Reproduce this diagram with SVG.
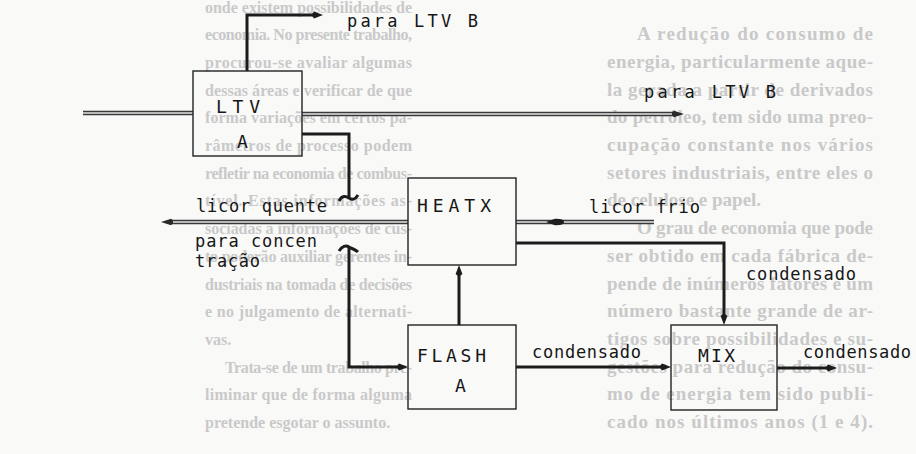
<svg xmlns="http://www.w3.org/2000/svg" width="916" height="454" viewBox="0 0 916 454">
<style>
.bg{font-family:"Liberation Serif","DejaVu Serif",serif;font-size:16px;font-weight:bold;fill:#c9c9c9}
.bgr{font-family:"Liberation Serif","DejaVu Serif",serif;font-size:19px;font-weight:bold;fill:#c9c9c9}
.lbl{font-family:"DejaVu Sans Mono","Liberation Mono",monospace;font-size:17px;fill:#161616}
.bl{font-family:"DejaVu Sans Mono","Liberation Mono",monospace;font-size:18px;fill:#161616}
.box{fill:none;stroke:#222;stroke-width:1.4}
.thick{fill:none;stroke:#1c1c1c;stroke-width:3}
.dblo{fill:none;stroke:#3a3a3a;stroke-width:4.5}
.dbli{fill:none;stroke:#e4e4e4;stroke-width:1.4}
</style>
<defs>
<marker id="ah" markerWidth="14" markerHeight="8" refX="4" refY="4" orient="auto" markerUnits="userSpaceOnUse">
<path d="M13,4 L4,0.6 Q0,4 4,7.4 Z" fill="#1c1c1c"/>
</marker>
<marker id="ahd" markerWidth="16" markerHeight="8" refX="5" refY="4" orient="auto" markerUnits="userSpaceOnUse">
<path d="M15,4 L5,0.8 Q0,4 5,7.2 Z" fill="#2a2a2a"/>
</marker>
</defs>
<rect width="916" height="454" fill="#f9f9f8"/>

<g id="background-text">
<text class="bg" x="205" y="13" textLength="207" lengthAdjust="spacing">onde existem possibilidades de</text>
<text class="bg" x="205" y="40" textLength="207" lengthAdjust="spacing">economia. No presente trabalho,</text>
<text class="bg" x="205" y="68" textLength="207" lengthAdjust="spacing">procurou-se avaliar algumas</text>
<text class="bg" x="205" y="96" textLength="207" lengthAdjust="spacing">dessas áreas e verificar de que</text>
<text class="bg" x="205" y="123" textLength="207" lengthAdjust="spacing">forma variações em certos pa-</text>
<text class="bg" x="205" y="151" textLength="207" lengthAdjust="spacing">râmetros de processo podem</text>
<text class="bg" x="205" y="179" textLength="207" lengthAdjust="spacing">refletir na economia de combus-</text>
<text class="bg" x="205" y="206" textLength="207" lengthAdjust="spacing">tível. Estas informações as-</text>
<text class="bg" x="205" y="234" textLength="207" lengthAdjust="spacing">sociadas a informações de cus-</text>
<text class="bg" x="205" y="262" textLength="207" lengthAdjust="spacing">to poderão auxiliar gerentes in-</text>
<text class="bg" x="205" y="290" textLength="207" lengthAdjust="spacing">dustriais na tomada de decisões</text>
<text class="bg" x="205" y="317" textLength="207" lengthAdjust="spacing">e no julgamento de alternati-</text>
<text class="bg" x="205" y="345">vas.</text>
<text class="bg" x="225" y="373" textLength="187" lengthAdjust="spacing">Trata-se de um trabalho pre-</text>
<text class="bg" x="205" y="400" textLength="207" lengthAdjust="spacing">liminar que de forma alguma</text>
<text class="bg" x="205" y="428">pretende esgotar o assunto.</text>

<text class="bgr" x="637" y="40" textLength="236" lengthAdjust="spacing">A redução do consumo de</text>
<text class="bgr" x="607" y="68" textLength="266" lengthAdjust="spacing">energia, particularmente aque-</text>
<text class="bgr" x="607" y="96" textLength="266" lengthAdjust="spacing">la gerada a partir de derivados</text>
<text class="bgr" x="607" y="123" textLength="266" lengthAdjust="spacing">do petróleo, tem sido uma preo-</text>
<text class="bgr" x="607" y="151" textLength="266" lengthAdjust="spacing">cupação constante nos vários</text>
<text class="bgr" x="607" y="179" textLength="266" lengthAdjust="spacing">setores industriais, entre eles o</text>
<text class="bgr" x="607" y="206">de celulose e papel.</text>
<text class="bgr" x="637" y="234" textLength="236" lengthAdjust="spacing">O grau de economia que pode</text>
<text class="bgr" x="607" y="262" textLength="266" lengthAdjust="spacing">ser obtido em cada fábrica de-</text>
<text class="bgr" x="607" y="290" textLength="266" lengthAdjust="spacing">pende de inúmeros fatores e um</text>
<text class="bgr" x="607" y="317" textLength="266" lengthAdjust="spacing">número bastante grande de ar-</text>
<text class="bgr" x="607" y="345" textLength="266" lengthAdjust="spacing">tigos sobre possibilidades e su-</text>
<text class="bgr" x="607" y="373" textLength="266" lengthAdjust="spacing">gestões para redução do consu-</text>
<text class="bgr" x="607" y="400" textLength="266" lengthAdjust="spacing">mo de energia tem sido publi-</text>
<text class="bgr" x="607" y="428" textLength="266" lengthAdjust="spacing">cado nos últimos anos (1 e 4).</text>
</g>

<g id="connectors">
<path class="thick" d="M247,71 V15 H314" marker-end="url(#ah)"/>
<path class="dblo" d="M83,113 H193"/>
<path class="dbli" d="M83,113 H193"/>
<path class="dblo" d="M302,114 H674" marker-end="url(#ahd)"/>
<path class="dbli" d="M302,114 H672"/>
<path class="thick" d="M302,134 H349 V198"/>
<path class="thick" d="M339,201 C342,195 346,196 349,198 C352,200 355,200 358,195"/>
<path class="thick" d="M339,251 C342,246 346,245 349,247 C352,249 355,249 358,252"/>
<path class="thick" d="M349,247 V367 H399" marker-end="url(#ah)"/>
<path class="dblo" d="M408,222 H171" marker-end="url(#ahd)"/>
<path class="dbli" d="M408,222 H173"/>
<path class="dblo" d="M654,222 H516"/>
<path class="dbli" d="M654,222 H516"/>
<path d="M546,222 L555,218.8 Q564,218.6 564,222 Q564,225.4 555,225.2 Z" fill="#1e1e1e"/>
<path class="thick" d="M516,243 H724 V316" marker-end="url(#ah)"/>
<path class="thick" d="M459,325 V274" marker-end="url(#ah)"/>
<path class="thick" d="M516,367 H662" marker-end="url(#ah)"/>
<path class="thick" d="M777,368 H828" marker-end="url(#ah)"/>
</g>

<g id="labels">
<text class="lbl" x="347" y="27" textLength="131" lengthAdjust="spacing">para LTV B</text>
<text class="lbl" x="644" y="98" textLength="132" lengthAdjust="spacing">para LTV B</text>
<text class="lbl" x="196" y="212" textLength="131" lengthAdjust="spacing">licor quente</text>
<text class="lbl" x="195" y="247" textLength="122" lengthAdjust="spacing">para concen</text>
<text class="lbl" x="195" y="267" textLength="65" lengthAdjust="spacing">tração</text>
<text class="lbl" x="589" y="213" textLength="111" lengthAdjust="spacing">licor frio</text>
<text class="lbl" x="746" y="280" textLength="110" lengthAdjust="spacing">condensado</text>
<text class="lbl" x="532" y="358" textLength="109" lengthAdjust="spacing">condensado</text>
<text class="lbl" x="803" y="358" textLength="108" lengthAdjust="spacing">condensado</text>
</g>

<g id="ltv-a">
<rect class="box" x="193" y="71" width="109" height="85"/>
<text class="bl" x="216" y="113" textLength="44" lengthAdjust="spacing">LTV</text>
<text class="bl" x="237" y="148">A</text>
</g>
<g id="heatx">
<rect class="box" x="408" y="178" width="108" height="87"/>
<text class="bl" x="417" y="212" textLength="74" lengthAdjust="spacing">HEATX</text>
</g>
<g id="flash-a">
<rect class="box" x="408" y="325" width="108" height="84"/>
<text class="bl" x="417" y="362" textLength="69" lengthAdjust="spacing">FLASH</text>
<text class="bl" x="455" y="392">A</text>
</g>
<g id="mix">
<rect class="box" x="671" y="325" width="106" height="85"/>
<text class="bl" x="698" y="362" textLength="37" lengthAdjust="spacing">MIX</text>
</g>
</svg>
